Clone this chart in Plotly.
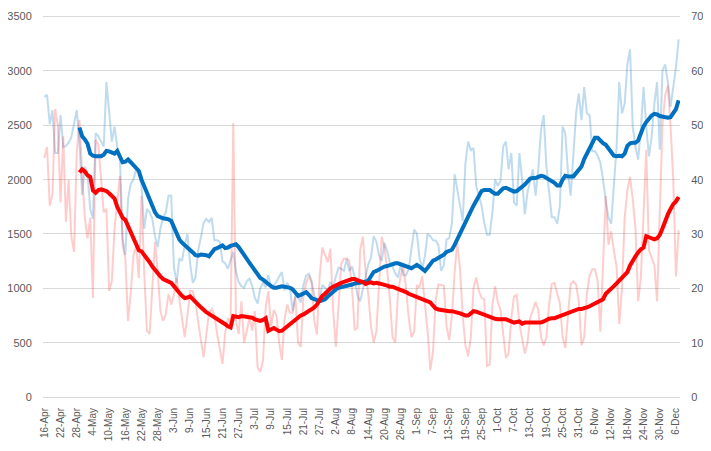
import pandas as pd
import plotly.graph_objects as go

# ---- data ----
start_date = "2020-04-16"
n_days = 236
dates = pd.date_range(start_date, periods=n_days, freq="D")
day_index = list(range(n_days))
tick_idx = list(range(0, n_days, 6))
tick_labels = [f"{dates[i].day}-{dates[i].strftime('%b')}" for i in tick_idx]

daily_blue = [
    2760, 2780, 2510, 2640, 2245, 2245, 2594, 2300, 2310, 2340,
    2390, 2500, 2639, 2350, 1860, 2120, 2060, 1730, 1640, 2427,
    2400, 2350, 2306, 2897, 2639, 2350, 2488, 2300, 2200, 1450,
    1306, 1821, 1960, 2000, 2094, 2050, 1942, 1548, 1730, 1700,
    1639, 1480, 1380, 1550, 1650, 1700, 1852, 1852, 1200, 1050,
    1276, 1250, 1397, 1500, 1230, 1050, 1100, 1350, 1470, 1600,
    1640, 1610, 1648, 1442, 1442, 1430, 1250, 1230, 1180, 1250,
    1336, 1150, 1060, 1020, 1005, 1064, 1090, 1020, 912, 860,
    1000, 1050, 1010, 1120, 1010, 1030, 1060, 1110, 1150, 980,
    1050, 1000, 790, 930, 920, 870, 1030, 1120, 1135, 1070,
    940, 880, 910, 1030, 1000, 980, 1060, 1003, 1110, 1190,
    1180, 1160, 1270, 1160, 1200, 1100, 930, 880, 990, 1100,
    1220, 1280, 1480, 1430, 1300, 1250, 1420, 1340, 1240, 1200,
    1140, 1100, 1215, 1120, 1120, 1180, 1350, 1540, 1503, 1280,
    1180, 1300, 1500, 1480, 1442, 1440, 1397, 1160, 1210, 1450,
    1460, 1600, 2050, 1900, 1760, 1620, 2150, 2351, 2270, 2290,
    1942, 1850, 1761, 1600, 1494, 1494, 1700, 2003, 1942, 1990,
    2306, 2351, 2094, 2245, 1791, 1761, 2245, 2003, 1680, 1882,
    2000, 2094, 1852, 2094, 2458, 2594, 2124, 1912, 1655, 1655,
    1594, 1761, 2488, 2427, 2064, 1852, 2245, 2609, 2791, 2548,
    2852, 2609, 2594, 2261, 2261, 2220, 2155, 2000, 1800, 1650,
    1594, 1950, 2300, 2897, 2609, 2700, 3064, 3200, 2488, 2300,
    2185, 2458, 2852, 2488, 2215, 2397, 2700, 2897, 2276, 3003,
    3060, 2900, 2670, 2852, 3033, 3291,
]

daily_red = [
    44, 46, 35.2, 37.3, 53, 50, 35.8, 48, 32.2, 40,
    29.5, 26.7, 44.9, 51, 41, 33, 29.2, 33, 18.2, 47.3,
    46.5, 40, 34, 34.6, 19.5, 21.3, 31, 36, 40.7, 28,
    25.5, 14, 19, 26, 27.9, 21.9, 37, 23, 12.2, 11.6,
    20.7, 28.5, 23, 15.8, 14, 15.2, 19, 17, 18.8, 21.9,
    18, 14, 11, 15, 19.5, 19.5, 17.5, 13.8, 10.5, 7.3,
    11.5, 15.5, 16.2, 15.2, 11.6, 9, 6.1, 11.8, 14.5, 13.4,
    50.4, 14, 11.6, 17.6, 10, 12.2, 14.6, 12.2, 15.8, 5.5,
    4.6, 6.7, 16.5, 19.5, 13, 16, 15, 10, 6.8, 14.4,
    17, 15.5, 15.5, 18.5, 10, 9.2, 18.5, 21, 22.3, 21,
    14, 11.5, 22.3, 27.5, 26, 24.8, 27.3, 15.8, 9.2, 17,
    24.5, 25.5, 25.5, 25, 20, 12.3, 12.8, 27, 29.5, 23,
    19, 13, 10, 12, 21, 29.5, 27.5, 23.5, 18, 11,
    10, 19, 22.3, 24, 20, 14.5, 11, 12, 20.5, 20.3,
    22.2, 17.5, 12, 4.9, 8.5, 18, 20.7, 20.6, 20.5, 13,
    10.5, 15, 23, 28.5, 23.5, 15, 9.5, 7.5, 11, 20,
    22, 19.5, 18.2, 18, 5.7, 6, 17, 20.4, 17.5, 16,
    11, 7.2, 8, 14.5, 18.5, 18.8, 13.5, 10.5, 8, 10,
    14.6, 16, 17.5, 16, 11, 9.5, 11, 17, 20.8, 21,
    19.2, 17.2, 11, 9, 15, 20.8, 21.3, 20.7, 17.6, 9.5,
    11, 19, 22.3, 23.5, 23.5, 21.3, 12, 26, 37, 28,
    30.5, 27, 24, 13.4, 20, 33, 38, 40.5, 36.4, 31,
    17.6, 22, 34, 45.5, 27, 25.5, 24.3, 17.6, 33, 50,
    55.5, 57.3, 50, 40, 22.2, 30.7,
]

avg_start = 13
avg_blue = [
    2480, 2400, 2370, 2330, 2240, 2220, 2215, 2215, 2215, 2230,
    2265, 2260, 2245, 2240, 2265, 2220, 2160, 2165, 2185, 2160,
    2130, 2110, 2080, 2000, 1940, 1880, 1820, 1760, 1700, 1665,
    1650, 1645, 1640, 1635, 1620, 1560, 1490, 1450, 1420, 1400,
    1375, 1360, 1330, 1305, 1300, 1310, 1310, 1305, 1295, 1330,
    1360, 1370, 1385, 1395, 1370, 1375, 1390, 1400, 1405, 1380,
    1340, 1300, 1270, 1235, 1200, 1160, 1120, 1095, 1080, 1065,
    1040, 1020, 1005, 1005, 1015, 1018, 1015, 1012, 1005, 990,
    960, 930, 940, 955, 965, 940, 910, 900, 890, 882,
    890, 900, 925, 950, 975, 990, 1005, 1010, 1015, 1018,
    1025, 1035, 1045, 1048, 1050, 1055, 1060, 1070, 1110, 1150,
    1160, 1175, 1195, 1200, 1205, 1215, 1225, 1230, 1230, 1220,
    1210, 1200, 1190, 1185, 1200, 1215, 1200, 1175, 1160, 1190,
    1225, 1255, 1265, 1280, 1290, 1310, 1335, 1345, 1355, 1400,
    1455, 1500, 1560, 1620, 1660, 1710, 1760, 1810, 1855, 1895,
    1905, 1905, 1905, 1885, 1870, 1870, 1895, 1920, 1925, 1915,
    1900, 1890, 1895, 1920, 1935, 1955, 1990, 2010, 2015, 2015,
    2025, 2035, 2030, 2015, 2005, 1995, 1970, 1945, 1945, 2000,
    2035, 2030, 2030, 2030, 2060, 2095, 2120, 2190, 2240, 2290,
    2340, 2385, 2385, 2355, 2335, 2320, 2290, 2250, 2220, 2215,
    2220, 2215, 2240, 2310, 2335, 2340, 2340, 2360, 2430, 2490,
    2530, 2560, 2590, 2605, 2600, 2585, 2580, 2575, 2570, 2575,
    2610, 2650, 2730,
]

avg_red = [
    41.3, 41.9, 41.5, 40.8, 40.5, 38.0, 37.6, 38.1, 38.2, 38.0,
    37.9, 37.5, 37.0, 36.5, 35.0, 33.8, 33.0, 32.6, 31.5, 30.5,
    29.5, 28.2, 27.0, 26.8, 26.2, 25.6, 24.8, 24.0, 23.3, 22.8,
    22.2, 21.7, 21.4, 21.3, 21.0, 20.4, 19.9, 19.2, 18.6, 18.2,
    18.3, 18.5, 18.0, 17.4, 17.0, 16.5, 16.0, 15.6, 15.3, 15.0,
    14.8, 14.4, 14.0, 13.8, 13.4, 13.0, 12.8, 14.9, 14.8, 14.7,
    14.9, 14.8, 14.7, 14.7, 14.6, 14.3, 14.1, 14.0, 14.2, 14.5,
    12.2, 12.4, 12.7, 12.4, 12.1, 12.2, 12.6, 13.0, 13.4, 13.9,
    14.4, 14.8, 15.0, 15.2, 15.5, 15.7, 16.1, 16.5, 17.0, 17.8,
    18.6, 19.0, 19.6, 20.0, 20.3, 20.6, 20.8, 21.0, 21.2, 21.4,
    21.6, 21.7, 21.7, 21.4, 21.3, 21.2, 20.8, 21.0, 21.1, 20.9,
    21.0, 20.9, 20.8, 20.7, 20.5, 20.3, 20.3, 20.1, 19.9, 19.7,
    19.6, 19.3, 19.0, 18.8, 18.6, 18.4, 18.2, 18.0, 17.8, 17.6,
    17.4, 16.8, 16.3, 16.1, 16.0, 15.9, 15.9, 15.8, 15.8, 15.7,
    15.5, 15.4, 15.2, 15.0, 15.0, 15.4, 15.8, 15.7, 15.5, 15.3,
    15.2, 15.0, 14.7, 14.5, 14.4, 14.3, 14.3, 14.2, 14.3, 14.1,
    13.9, 13.7, 13.8, 13.9, 13.5, 13.7, 13.7, 13.7, 13.6, 13.6,
    13.7, 13.7, 13.9, 14.2, 14.4, 14.5, 14.5, 14.7, 14.9, 15.0,
    15.2, 15.5, 15.7, 15.9, 16.1, 16.2, 16.2, 16.3, 16.5, 16.7,
    17.0, 17.3, 17.6, 17.8, 18.0, 19.0, 19.4, 19.8, 20.4, 20.9,
    21.4, 21.8, 22.3, 23.0, 24.2, 25.2, 25.9, 26.6, 27.2, 27.5,
    29.6, 29.4, 29.1, 29.0, 29.2, 29.8, 31.0, 32.5, 33.6, 34.6,
    35.5, 36.0, 36.8,
]
avg_index = day_index[avg_start:]

left_ticks = list(range(0, 3501, 500))
right_ticks = list(range(0, 71, 10))

# ---- figure ----
FONT = "Liberation Sans"
TICK_COLOR = "#595959"
GRID = "#D9D9D9"
LEFT_RANGE = [0, 3515]   # a hair above 3500 so the top gridline is drawn
RIGHT_RANGE = [0, 70.3]  # same ratio as the left axis (1 : 50)

fig = go.Figure()
fig.add_trace(go.Scatter(x=day_index, y=daily_blue, mode="lines", yaxis="y",
                         line=dict(color="rgba(0,112,192,0.25)", width=2),
                         hoverinfo="skip", showlegend=False))
fig.add_trace(go.Scatter(x=day_index, y=daily_red, mode="lines", yaxis="y2",
                         line=dict(color="rgba(255,0,0,0.2)", width=2),
                         hoverinfo="skip", showlegend=False))
fig.add_trace(go.Scatter(x=avg_index, y=avg_red, mode="lines", yaxis="y4",
                         line=dict(color="#FF0000", width=4),
                         hoverinfo="skip", showlegend=False))
fig.add_trace(go.Scatter(x=avg_index, y=avg_blue, mode="lines", yaxis="y3",
                         line=dict(color="#0070C0", width=4),
                         hoverinfo="skip", showlegend=False))

# page body has an 8px margin, so the figure is sized/offset to fit the 711x451 window
fig.update_layout(
    width=703, height=443,
    margin=dict(l=35, r=31, t=7, b=54, autoexpand=False),
    paper_bgcolor="white", plot_bgcolor="white",
    font=dict(family=FONT, color=TICK_COLOR, size=11),
    xaxis=dict(
        range=[-0.5, n_days - 0.5], automargin=False,
        tickmode="array", tickvals=tick_idx, ticktext=tick_labels,
        tickangle=-90, tickfont=dict(size=10, color=TICK_COLOR),
        ticks="outside", ticklen=6, tickcolor="rgba(0,0,0,0)",
        showgrid=False, zeroline=False,
        showline=True, linecolor=GRID, linewidth=1,
    ),
    yaxis=dict(
        range=LEFT_RANGE, tickmode="array", tickvals=left_ticks, automargin=False,
        showgrid=True, gridcolor=GRID, gridwidth=1, zeroline=False,
        ticks="outside", ticklen=8, tickcolor="rgba(0,0,0,0)",
        tickfont=dict(size=11, color=TICK_COLOR), ticklabeloverflow="allow",
    ),
    yaxis2=dict(
        range=RIGHT_RANGE, tickmode="array", tickvals=right_ticks, automargin=False,
        overlaying="y", side="right",
        showgrid=False, zeroline=False,
        ticks="outside", ticklen=8, tickcolor="rgba(0,0,0,0)",
        tickfont=dict(size=11, color=TICK_COLOR), ticklabeloverflow="allow",
    ),
    yaxis3=dict(range=LEFT_RANGE, overlaying="y", visible=False, automargin=False),
    yaxis4=dict(range=RIGHT_RANGE, overlaying="y", visible=False, automargin=False),
)

fig.write_html("out.html")
